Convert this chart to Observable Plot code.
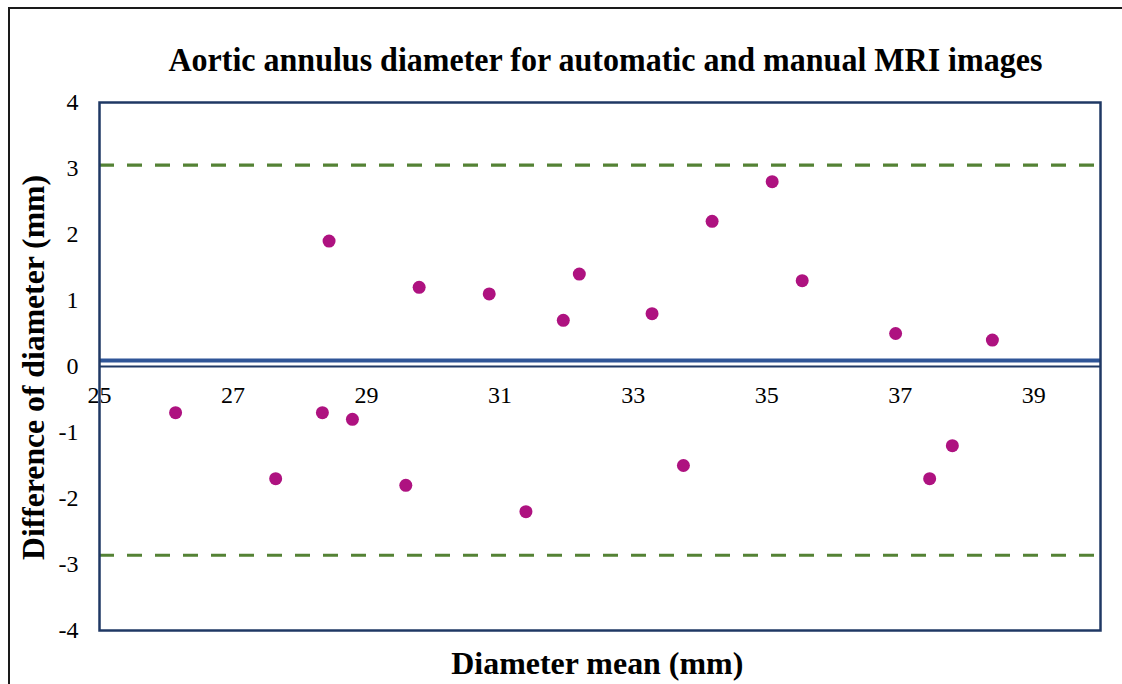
<!DOCTYPE html>
<html>
<head>
<meta charset="utf-8">
<script src="https://cdn.jsdelivr.net/npm/d3@7"></script>
<script src="https://cdn.jsdelivr.net/npm/@observablehq/plot@0.6"></script>
<style>
  html, body { margin: 0; padding: 0; background: #fff; }
  #wrap { position: relative; width: 1122px; height: 684px; overflow: hidden; background: #fff; }
  #wrap svg { position: absolute; left: 0; top: 0; }
  #wrap svg text { font-family: "Liberation Serif", "Times New Roman", serif; }
  .border { position: absolute; left: 8px; top: 7px; width: 1300px; height: 900px;
            border-left: 2px solid #1a1a1a; border-top: 2px solid #1a1a1a; }
  .lbl { position: absolute; font-family: "Liberation Serif", "Times New Roman", serif;
         font-weight: bold; color: #000; white-space: nowrap; line-height: 1; }
</style>
</head>
<body>
<div id="wrap">
  <div class="border"></div>
</div>
<script>
// ---- data ----
const meanDiameter = [26.14, 27.64, 28.34, 28.44, 28.79, 29.59, 29.79, 30.84, 31.39, 31.95,
                      32.19, 33.28, 33.75, 34.18, 35.08, 35.53, 36.93, 37.44, 37.78, 38.38];
const diffDiameter = [-0.7, -1.7, -0.7, 1.9, -0.8, -1.8, 1.2, 1.1, -2.2, 0.7,
                      1.4, 0.8, -1.5, 2.2, 2.8, 1.3, 0.5, -1.7, -1.2, 0.4];
const meanDiff = [0.09];
const limitsOfAgreement = [3.05, -2.86];
const xTicks = [25, 27, 29, 31, 33, 35, 37, 39];
const yTicks = [-4, -3, -2, -1, 0, 1, 2, 3, 4];
const titleText = "Aortic annulus diameter for automatic and manual MRI images";
const xLabel = "Diameter mean (mm)";
const yLabel = "Difference of diameter (mm)";

const points = meanDiameter.map((x, i) => ({x, y: diffDiameter[i]}));

const serif = "Liberation Serif";
const navy = "#1F3864";
const chart = Plot.plot({
  width: 1122,
  height: 684,
  marginLeft: 99,
  marginRight: 22,
  marginTop: 102,
  marginBottom: 54,
  style: {fontFamily: serif, fontSize: "24px", color: "#000", background: "transparent"},
  x: {domain: [25, 40], axis: null},
  y: {domain: [-4, 4], axis: null},
  marks: [
    Plot.axisY({ticks: yTicks, tickSize: 0, tickPadding: 21, tickFormat: d => String(d),
                fontSize: 24, fontFamily: serif, fill: "#000", label: null}),
    Plot.ruleY(limitsOfAgreement, {stroke: "#548235", strokeWidth: 3.2, strokeDasharray: "15,13"}),
    Plot.ruleY([0], {stroke: navy, strokeWidth: 2}),
    Plot.ruleY(meanDiff, {stroke: "#2F5597", strokeWidth: 4}),
    Plot.text(xTicks, {x: d => d, y: 0, dy: 29, text: d => String(d),
                       fontSize: 24, fontFamily: serif, fill: "#000"}),
    Plot.dot(points, {x: "x", y: "y", r: 6.5, fill: "#AE1280", stroke: "none"}),
    Plot.frame({stroke: navy, strokeWidth: 2.5})
  ]
});
const wrap = document.getElementById("wrap");
wrap.appendChild(chart);

function addLabel(text, size, cx, baseline, targetWidth, rotate) {
  const el = document.createElement("div");
  el.className = "lbl";
  el.textContent = text;
  el.style.fontSize = size + "px";
  wrap.appendChild(el);
  const w = el.getBoundingClientRect().width;
  const s = targetWidth / w;
  const baseOff = 0.8375 * size;
  el.style.left = (cx - w / 2) + "px";
  el.style.transformOrigin = "50% 50%";
  if (!rotate) {
    el.style.top = (baseline - baseOff) + "px";
    el.style.transform = `scaleX(${s})`;
  } else {
    el.style.top = (baseline - size / 2) + "px";
    el.style.transform = `rotate(-90deg) scaleX(${s})`;
  }
}
addLabel(titleText, 33, 605, 72, 874, false);
addLabel(xLabel, 32, 597, 674, 292, false);
addLabel(yLabel, 31, 33, 367, 385, true);
</script>
</body>
</html>
